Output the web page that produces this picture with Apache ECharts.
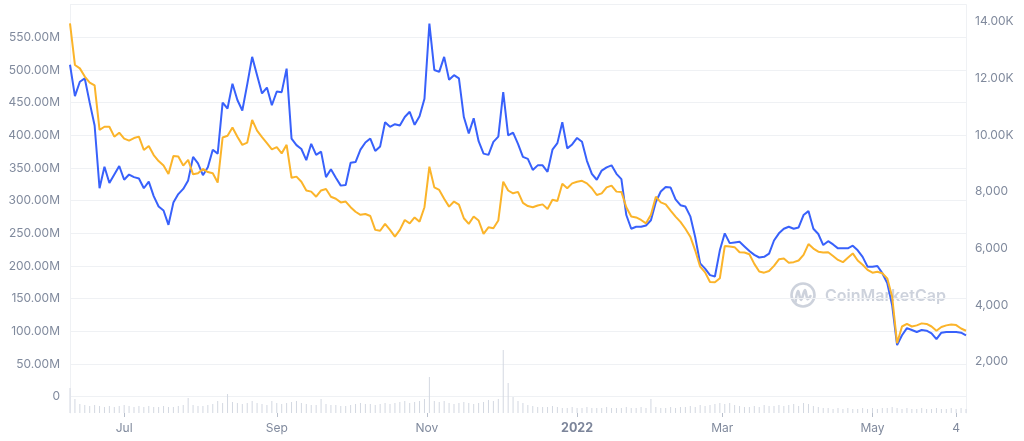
<!DOCTYPE html>
<html>
<head>
<meta charset="utf-8">
<script src="https://cdn.jsdelivr.net/npm/echarts@6/dist/echarts.min.js"></script>
<style>
  html, body { margin: 0; padding: 0; background: #ffffff; }
  #chart { width: 1024px; height: 441px; }
</style>
</head>
<body>
<div id="chart"></div>
<script>
// ---- data (2-day samples, starting 2021-06-09) ----
const startDate = '2021-06-09';
const stepDays = 2;

// blue line, left axis (USD, millions)
const marketCapM = [
  508,460,482,487,450,415,319,352,327,340,353,332,340,336,334,319,329,307,291,285,263,297,310,318,331,367,357,339,351,378,
  372,450,441,479,454,438,478,520,492,464,473,446,467,466,502,395,385,379,362,387,370,375,336,348,335,323,324,358,359,378,
  389,395,376,383,420,413,417,415,428,436,416,429,456,571,500,497,520,485,492,487,428,403,426,391,372,370,390,398,466,400,
  404,387,367,364,347,354,354,344,378,388,420,380,386,396,390,361,341,332,346,351,354,341,333,278,257,260,260,262,270,298,
  314,321,320,302,293,291,276,244,204,196,186,184,224,250,235,236,237,230,223,217,213,214,219,239,250,257,260,257,259,278,
  284,257,249,232,238,233,227,227,227,231,224,214,199,199,200,189,174,140,79,94,105,102,99,102,101,97,88,98,99,99,99,98,94
];

// yellow line, right axis (USD)
const priceUSD = [
  13940,12470,12350,12060,11850,11750,10180,10290,10290,9940,10080,9870,9800,9890,9940,9470,9610,9290,9080,8920,8620,9260,9240,8920,9120,8610,8650,8800,8690,8650,
  8320,9910,9970,10260,9940,9650,9730,10530,10150,9920,9710,9490,9570,9350,9650,8490,8530,8350,8040,8000,7820,8040,8090,7820,7750,7620,7650,7450,7290,7180,
  7210,7140,6650,6620,6860,6650,6410,6650,7000,6880,7090,6940,7450,8880,8150,8060,7750,7470,7650,7540,7060,6860,7120,6980,6510,6740,6710,6980,8350,8040,
  7940,7990,7600,7490,7450,7510,7550,7390,7710,7670,8280,8120,8290,8350,8380,8290,8120,7880,7940,8150,8210,8000,7990,7450,7120,7090,7000,6880,7180,7820,
  7620,7550,7330,7120,6930,6690,6410,5920,5350,5150,4810,4800,4940,6080,6060,6040,5860,5850,5790,5450,5180,5140,5200,5380,5610,5640,5490,5510,5570,5770,
  6150,5990,5880,5850,5860,5730,5590,5510,5670,5820,5570,5420,5240,5140,5170,5120,4940,4290,2650,3240,3330,3240,3280,3350,3330,3240,3090,3220,3280,3310,3290,3170,3090
];

// volume bars (relative units)
const volume = [
  25,14,9,8,7,8,7,6,7,6,7,
  8,7,6,7,6,7,6,6,7,6,6,7,8,15,
  8,7,7,8,9,12,10,19,11,10,9,10,12,10,9,8,
  12,10,9,10,11,12,10,9,8,8,14,9,8,8,7,7,8,9,10,9,
  9,8,9,10,9,10,11,12,10,11,12,14,
  36,12,
  11,12,10,9,10,11,10,9,10,11,13,
  12,14,63,30,16,12,10,8,7,6,6,6,
  7,6,5,5,6,5,5,6,5,5,5,6,5,5,5,6,5,5,6,5,
  14,6,
  5,5,6,5,6,6,7,6,8,7,8,9,10,9,10,8,
  7,6,6,7,6,8,7,7,8,7,8,9,7,10,9,7,6,
  5,5,4,5,4,5,4,4,5,4,5,4,5,5,6,5,4,5,4,4,5,4,4,5,4,4,5,4,5,4
];

// x-axis label dates
const xLabelDates = ['2021-07-01','2021-09-01','2021-11-01','2022-01-01','2022-03-01','2022-05-01','2022-06-04'];
const leftTicks = { min: 0, max: 600e6, interval: 50e6 };
const rightTicks = { min: 0, max: 14763, interval: 2000 };

// ---- build ----
const DAY = 86400000;
function parseDay(s) { const p = s.split('-').map(Number); return new Date(p[0], p[1] - 1, p[2]).getTime(); }
const t0 = parseDay(startDate);
const dates = marketCapM.map((_, i) => t0 + i * stepDays * DAY);
const xMin = dates[0], xMax = dates[dates.length - 1];
const labelTimes = xLabelDates.map(parseDay);
const monthNames = ['Jan','Feb','Mar','Apr','May','Jun','Jul','Aug','Sep','Oct','Nov','Dec'];

const labelColor = '#808a9d';
const gridColor = '#eff1f4';
const font = 'Inter';
const L = 70, R = 58;

function xAxisDef(gridIndex, show) {
  return {
    type: 'value', gridIndex: gridIndex, min: xMin, max: xMax,
    show: true,
    axisLine: { show: false },
    splitLine: { show: false },
    axisTick: show ? { show: true, length: 4, lineStyle: { color: '#b8bfcc' }, customValues: labelTimes } : { show: false },
    axisLabel: show ? {
      show: true, margin: 9, color: labelColor, fontSize: 12, fontFamily: font,
      customValues: labelTimes,
      formatter: function (v) {
        const d = new Date(v);
        if (d.getMonth() === 0 && d.getDate() === 1) return '{b|' + d.getFullYear() + '}';
        if (d.getDate() === 1) return monthNames[d.getMonth()];
        return String(d.getDate());
      },
      rich: { b: { fontWeight: 'bold', color: '#7c859a', fontSize: 12.5, fontFamily: font } }
    } : { show: false }
  };
}

const option = {
  animation: false,
  backgroundColor: '#ffffff',
  grid: [
    { left: L, right: R, top: 4.6, bottom: 44.3 },
    { left: L, right: R, top: 0, bottom: 22.7 },
    { left: L, right: R, top: 313, bottom: 28 }
  ],
  xAxis: [ xAxisDef(0, false), xAxisDef(1, false), xAxisDef(2, true) ],
  yAxis: [
    {
      type: 'value', gridIndex: 0, position: 'left',
      min: leftTicks.min, max: leftTicks.max, interval: leftTicks.interval,
      axisLine: { show: true, lineStyle: { color: gridColor } },
      axisTick: { show: false },
      splitLine: { show: true, lineStyle: { color: gridColor, width: 1 } },
      axisLabel: {
        color: labelColor, fontSize: 12, fontFamily: font, margin: 10,
        formatter: function (v) {
          if (v === 0) return '0';
          if (v >= 600e6) return '';
          return (v / 1e6).toFixed(2) + 'M';
        }
      }
    },
    {
      type: 'value', gridIndex: 1, position: 'right',
      min: rightTicks.min, max: rightTicks.max, interval: rightTicks.interval,
      axisLine: { show: false }, axisTick: { show: false }, splitLine: { show: false },
      axisLabel: {
        color: labelColor, fontSize: 12, fontFamily: font, margin: 9,
        formatter: function (v) {
          if (v === 0 || v > 14000) return '';
          if (v >= 10000) return (v / 1000).toFixed(2) + 'K';
          return v.toLocaleString('en-US');
        }
      }
    },
    {
      type: 'value', gridIndex: 2, position: 'left', min: 0, max: 100,
      axisLine: { show: true, lineStyle: { color: gridColor } },
      axisTick: { show: false }, splitLine: { show: false }, axisLabel: { show: false }
    },
    {
      type: 'value', gridIndex: 2, position: 'right', min: 0, max: 100,
      axisLine: { show: true, lineStyle: { color: gridColor } },
      axisTick: { show: false }, splitLine: { show: false }, axisLabel: { show: false }
    },
    {
      type: 'value', gridIndex: 0, position: 'right', min: 0, max: 100,
      axisLine: { show: true, lineStyle: { color: gridColor } },
      axisTick: { show: false }, splitLine: { show: false }, axisLabel: { show: false }
    }
  ],
  graphic: [
    { type: 'circle', z: 0, shape: { cx: 803, cy: 295, r: 11.5 }, style: { fill: 'none', stroke: '#cdd2dc', lineWidth: 2.6 } },
    { type: 'polyline', z: 0, shape: { points: [[795.5, 302], [798, 291], [801, 300], [805, 290], [807.5, 299], [810.5, 296]], smooth: 0.35 },
      style: { fill: 'none', stroke: '#cdd2dc', lineWidth: 2.6, lineCap: 'round', lineJoin: 'round' } },
    { type: 'text', z: 0, style: { x: 825, y: 296, text: 'CoinMarketCap', font: '600 16px Inter', fill: '#cdd2dc', verticalAlign: 'middle' } }
  ],
  series: [
    {
      type: 'bar', xAxisIndex: 2, yAxisIndex: 2, barWidth: 1,
      itemStyle: { color: '#d3d8e1' },
      data: volume.map((v, i) => [dates[i], v]),
      silent: true
    },
    {
      type: 'line', xAxisIndex: 0, yAxisIndex: 0, showSymbol: false,
      lineStyle: { color: '#3861fb', width: 2 },
      data: marketCapM.map((v, i) => [dates[i], v * 1e6]),
      z: 3
    },
    {
      type: 'line', xAxisIndex: 1, yAxisIndex: 1, showSymbol: false,
      lineStyle: { color: '#fbb42a', width: 2 },
      data: priceUSD.map((v, i) => [dates[i], v]),
      z: 4
    }
  ]
};

const chart = echarts.init(document.getElementById('chart'), null, { renderer: 'canvas' });
chart.setOption(option);
</script>
</body>
</html>
